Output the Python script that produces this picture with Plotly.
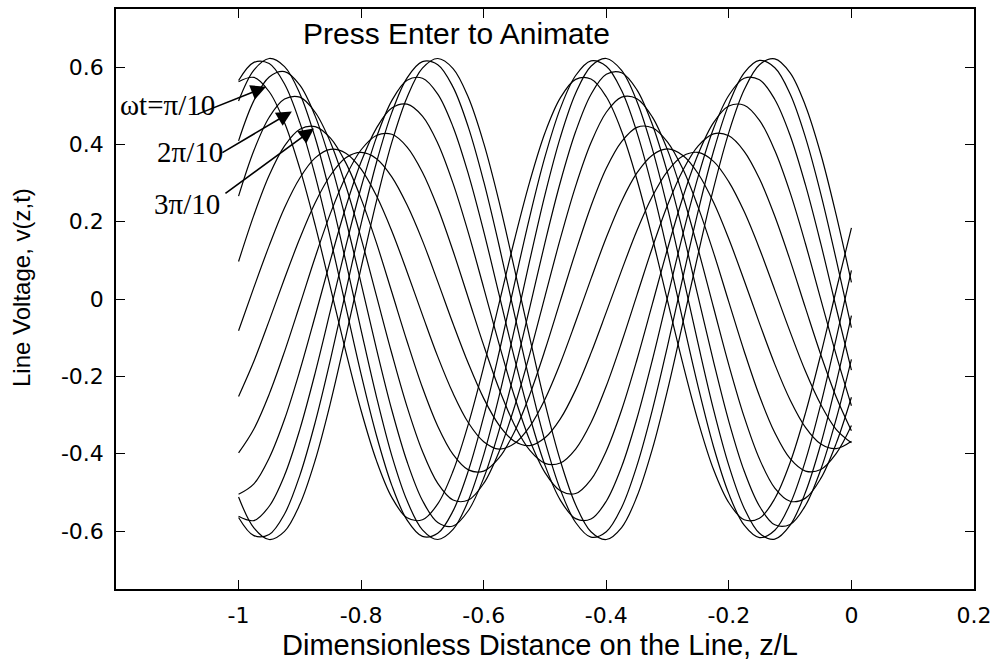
import plotly.graph_objects as go

# Position along the line, z/L (load at z/L = 0)
z_over_L = [-1.0, -0.975, -0.95, -0.925, -0.9, -0.875, -0.85, -0.825, -0.8, -0.775,
            -0.75, -0.725, -0.7, -0.675, -0.65, -0.625, -0.6, -0.575, -0.55, -0.525,
            -0.5, -0.475, -0.45, -0.425, -0.4, -0.375, -0.35, -0.325, -0.3, -0.275,
            -0.25, -0.225, -0.2, -0.175, -0.15, -0.125, -0.1, -0.075, -0.05, -0.025, 0.0]

# Snapshots of the line voltage v(z,t) at wt = pi/10, 2pi/10, ..., 13pi/10
v_wt01 = [0.562, 0.573, 0.536, 0.456, 0.337, 0.191, 0.029, -0.136, -0.289, -0.418,
          -0.513, -0.566, -0.571, -0.530, -0.445, -0.323, -0.175, -0.012, 0.152, 0.303,
          0.430, 0.520, 0.568, 0.569, 0.523, 0.434, 0.309, 0.159, -0.005, -0.168,
          -0.317, -0.441, -0.527, -0.571, -0.567, -0.516, -0.423, -0.295, -0.143, 0.022, 0.184]
v_wt02 = [0.565, 0.612, 0.609, 0.556, 0.456, 0.319, 0.156, -0.020, -0.195, -0.353,
          -0.482, -0.572, -0.614, -0.606, -0.548, -0.444, -0.304, -0.139, 0.038, 0.212,
          0.368, 0.493, 0.578, 0.616, 0.602, 0.539, 0.431, 0.288, 0.121, -0.056,
          -0.228, -0.382, -0.504, -0.585, -0.617, -0.598, -0.530, -0.418, -0.272, -0.103, 0.074]
v_wt03 = [0.512, 0.592, 0.622, 0.601, 0.531, 0.417, 0.268, 0.097, -0.081, -0.253,
          -0.405, -0.522, -0.597, -0.622, -0.596, -0.521, -0.403, -0.252, -0.079, 0.099,
          0.270, 0.418, 0.532, 0.602, 0.622, 0.591, 0.511, 0.389, 0.235, 0.061,
          -0.117, -0.286, -0.431, -0.541, -0.606, -0.621, -0.585, -0.500, -0.375, -0.218, -0.043]
v_wt04 = [0.409, 0.513, 0.574, 0.588, 0.553, 0.473, 0.354, 0.205, 0.040, -0.129,
          -0.287, -0.421, -0.521, -0.578, -0.587, -0.547, -0.463, -0.340, -0.189, -0.023,
          0.146, 0.302, 0.433, 0.529, 0.581, 0.585, 0.541, 0.452, 0.326, 0.173,
          0.005, -0.162, -0.317, -0.445, -0.536, -0.584, -0.583, -0.534, -0.441, -0.311, -0.156]
v_wt05 = [0.266, 0.384, 0.470, 0.517, 0.522, 0.483, 0.405, 0.293, 0.157, 0.008,
          -0.141, -0.279, -0.394, -0.477, -0.520, -0.520, -0.477, -0.395, -0.280, -0.143,
          0.007, 0.156, 0.292, 0.404, 0.483, 0.522, 0.518, 0.471, 0.385, 0.267,
          0.128, -0.022, -0.171, -0.305, -0.414, -0.489, -0.523, -0.515, -0.464, -0.374, -0.254]
v_wt06 = [0.097, 0.217, 0.320, 0.396, 0.439, 0.446, 0.416, 0.352, 0.259, 0.145,
          0.018, -0.110, -0.229, -0.329, -0.402, -0.442, -0.445, -0.411, -0.344, -0.248,
          -0.132, -0.005, 0.122, 0.240, 0.338, 0.407, 0.444, 0.443, 0.406, 0.336,
          0.237, 0.120, -0.008, -0.135, -0.251, -0.346, -0.413, -0.445, -0.441, -0.400, -0.327]
v_wt07 = [-0.082, 0.030, 0.138, 0.236, 0.313, 0.365, 0.387, 0.377, 0.336, 0.267,
          0.176, 0.070, -0.041, -0.149, -0.244, -0.320, -0.369, -0.388, -0.374, -0.330,
          -0.259, -0.166, -0.059, 0.052, 0.159, 0.253, 0.326, 0.372, 0.388, 0.371,
          0.324, 0.250, 0.155, 0.048, -0.063, -0.169, -0.261, -0.332, -0.375, -0.387, -0.368]
v_wt08 = [-0.252, -0.161, -0.056, 0.053, 0.157, 0.249, 0.320, 0.365, 0.379, 0.363,
          0.316, 0.243, 0.151, 0.045, -0.064, -0.167, -0.257, -0.326, -0.368, -0.379,
          -0.359, -0.310, -0.235, -0.140, -0.034, 0.074, 0.177, 0.265, 0.331, 0.370,
          0.379, 0.356, 0.303, 0.226, 0.130, 0.023, -0.085, -0.187, -0.273, -0.337, -0.372]
v_wt09 = [-0.398, -0.336, -0.246, -0.136, -0.015, 0.108, 0.222, 0.317, 0.386, 0.423,
          0.426, 0.393, 0.328, 0.236, 0.124, 0.002, -0.120, -0.232, -0.325, -0.391,
          -0.425, -0.424, -0.388, -0.320, -0.225, -0.112, 0.010, 0.132, 0.243, 0.333,
          0.396, 0.427, 0.422, 0.382, 0.311, 0.214, 0.100, -0.023, -0.144, -0.253, -0.341]
v_wt10 = [-0.505, -0.478, -0.411, -0.311, -0.185, -0.044, 0.101, 0.238, 0.355, 0.442,
          0.494, 0.504, 0.473, 0.403, 0.299, 0.171, 0.029, -0.116, -0.251, -0.365,
          -0.449, -0.496, -0.503, -0.467, -0.393, -0.287, -0.157, -0.014, 0.130, 0.263,
          0.375, 0.456, 0.499, 0.501, 0.462, 0.384, 0.275, 0.143, -0.001, -0.144, -0.276]
v_wt11 = [-0.562, -0.573, -0.536, -0.456, -0.337, -0.191, -0.029, 0.136, 0.289, 0.418,
          0.513, 0.566, 0.571, 0.530, 0.445, 0.323, 0.175, 0.012, -0.152, -0.303,
          -0.430, -0.520, -0.568, -0.569, -0.523, -0.434, -0.309, -0.159, 0.005, 0.168,
          0.317, 0.441, 0.527, 0.571, 0.567, 0.516, 0.423, 0.295, 0.143, -0.022, -0.184]
v_wt12 = [-0.565, -0.612, -0.609, -0.556, -0.456, -0.319, -0.156, 0.020, 0.195, 0.353,
          0.482, 0.572, 0.614, 0.606, 0.548, 0.444, 0.304, 0.139, -0.038, -0.212,
          -0.368, -0.493, -0.578, -0.616, -0.602, -0.539, -0.431, -0.288, -0.121, 0.056,
          0.228, 0.382, 0.504, 0.585, 0.617, 0.598, 0.530, 0.418, 0.272, 0.103, -0.074]
v_wt13 = [-0.512, -0.592, -0.622, -0.601, -0.531, -0.417, -0.268, -0.097, 0.081, 0.253,
          0.405, 0.522, 0.597, 0.622, 0.596, 0.521, 0.403, 0.252, 0.079, -0.099,
          -0.270, -0.418, -0.532, -0.602, -0.622, -0.591, -0.511, -0.389, -0.235, -0.061,
          0.117, 0.286, 0.431, 0.541, 0.606, 0.621, 0.585, 0.500, 0.375, 0.218, 0.043]

snapshots = [v_wt01, v_wt02, v_wt03, v_wt04, v_wt05, v_wt06, v_wt07,
             v_wt08, v_wt09, v_wt10, v_wt11, v_wt12, v_wt13]

x_ticks = [-1, -0.8, -0.6, -0.4, -0.2, 0, 0.2]
x_tick_text = ["-1", "-0.8", "-0.6", "-0.4", "-0.2", "0", "0.2"]
y_ticks = [-0.6, -0.4, -0.2, 0, 0.2, 0.4, 0.6]
y_tick_text = ["-0.6", "-0.4", "-0.2", "0", "0.2", "0.4", "0.6"]

# Phase labels and the point on each snapshot that its arrow marks
phase_labels = ["\u03c9t=\u03c0/10", "2\u03c0/10", "3\u03c0/10"]
arrow_tip_z = [-0.955, -0.913, -0.877]
arrow_tip_v = [0.549, 0.485, 0.441]

fig = go.Figure()
for v in snapshots:
    fig.add_trace(go.Scatter(x=z_over_L, y=v, mode="lines",
                             line=dict(color="black", width=1.2, shape="spline"),
                             showlegend=False, hoverinfo="skip"))

tick_font = dict(family="DejaVu Sans", size=22, color="black")
axis_style = dict(ticks="inside", ticklen=9, tickwidth=1.3, tickcolor="black",
                  showline=True, linecolor="black", linewidth=1.5, mirror="ticks",
                  showgrid=False, zeroline=False, tickfont=tick_font)
fig.update_xaxes(range=[-1.2, 0.2], tickvals=x_ticks, ticktext=x_tick_text,
                 ticklabelstandoff=6, **axis_style)
fig.update_yaxes(range=[-0.75, 0.75], tickvals=y_ticks, ticktext=y_tick_text,
                 ticklabelstandoff=6, **axis_style)

sans = "Liberation Sans"
serif = "Liberation Serif"
annotations = [
    dict(text="Press Enter to Animate", xref="paper", yref="paper", x=0.397, y=1,
         xanchor="center", yanchor="middle", yshift=-24, showarrow=False,
         font=dict(family=sans, size=30, color="black")),
    dict(text="Dimensionless Distance on the Line, z/L", xref="paper", yref="paper",
         x=0.494, y=0, xanchor="center", yanchor="middle", yshift=-56, showarrow=False,
         font=dict(family=sans, size=29, color="black")),
    dict(text="Line Voltage, v(z,t)", xref="paper", yref="paper", x=0, y=0.519,
         xanchor="center", yanchor="middle", xshift=-94, textangle=-90, showarrow=False,
         font=dict(family=sans, size=24, color="black")),
]
label_pos = [(0.0023, 0.835), (0.045, 0.754), (0.042, 0.663)]
for text, (px, py) in zip(phase_labels, label_pos):
    annotations.append(dict(text=text, xref="paper", yref="paper", x=px, y=py,
                            xanchor="left", yanchor="middle", showarrow=False,
                            font=dict(family=serif, size=29, color="black")))
tails = [(-70, 28), (-71, 42), (-90, 66)]
for zt, vt, (ax, ay) in zip(arrow_tip_z, arrow_tip_v, tails):
    annotations.append(dict(x=zt, y=vt, xref="x", yref="y", text="", showarrow=True,
                            ax=ax, ay=ay, arrowhead=2, arrowsize=1.9, arrowwidth=1.6,
                            arrowcolor="black", standoff=0))

fig.update_layout(width=999, height=660, autosize=False,
                  margin=dict(l=116, r=21, t=7, b=71),
                  paper_bgcolor="white", plot_bgcolor="white",
                  annotations=annotations)

fig.write_html("out.html")
